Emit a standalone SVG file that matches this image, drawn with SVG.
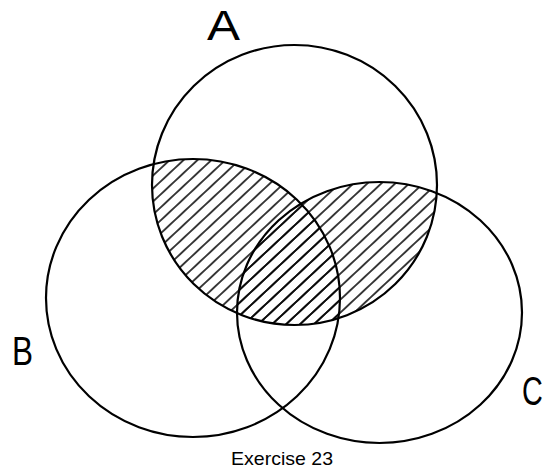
<svg xmlns="http://www.w3.org/2000/svg" width="546" height="469" viewBox="0 0 546 469">
<style>
.c{fill:none;stroke:#000;stroke-width:2.2}
.lbl{font-family:"Liberation Sans",Arial,sans-serif;fill:#000}
</style>
<defs>
<pattern id="hatch" patternUnits="userSpaceOnUse" width="9.5" height="9.5" patternTransform="rotate(-43)">
<line x1="0" y1="4.75" x2="9.5" y2="4.75" stroke="#000" stroke-width="1.5"/>
</pattern>
<clipPath id="clipA"><ellipse cx="294.5" cy="185" rx="142.5" ry="140"/></clipPath>
</defs>
<rect width="546" height="469" fill="#fff"/>
<g id="shade" clip-path="url(#clipA)">
<ellipse cx="193" cy="298" rx="147" ry="139" fill="url(#hatch)"/>
<ellipse cx="379.5" cy="312.5" rx="142.5" ry="130.5" fill="url(#hatch)"/>
</g>
<g id="setA">
<ellipse class="c" cx="294.5" cy="185" rx="142.5" ry="140"/>
<text class="lbl" x="207" y="40" font-size="42" textLength="33" lengthAdjust="spacingAndGlyphs">A</text>
</g>
<g id="setB">
<ellipse class="c" cx="193" cy="298" rx="147" ry="139"/>
<text class="lbl" x="12" y="365" font-size="40" textLength="21" lengthAdjust="spacingAndGlyphs">B</text>
</g>
<g id="setC">
<ellipse class="c" cx="379.5" cy="312.5" rx="142.5" ry="130.5"/>
<text class="lbl" transform="translate(522,405) scale(0.72,1)" x="0" y="0" font-size="40">C</text>
</g>
<g id="connectors"></g>
<text id="caption" class="lbl" x="231" y="465" font-size="19" textLength="102" lengthAdjust="spacingAndGlyphs">Exercise 23</text>
</svg>
